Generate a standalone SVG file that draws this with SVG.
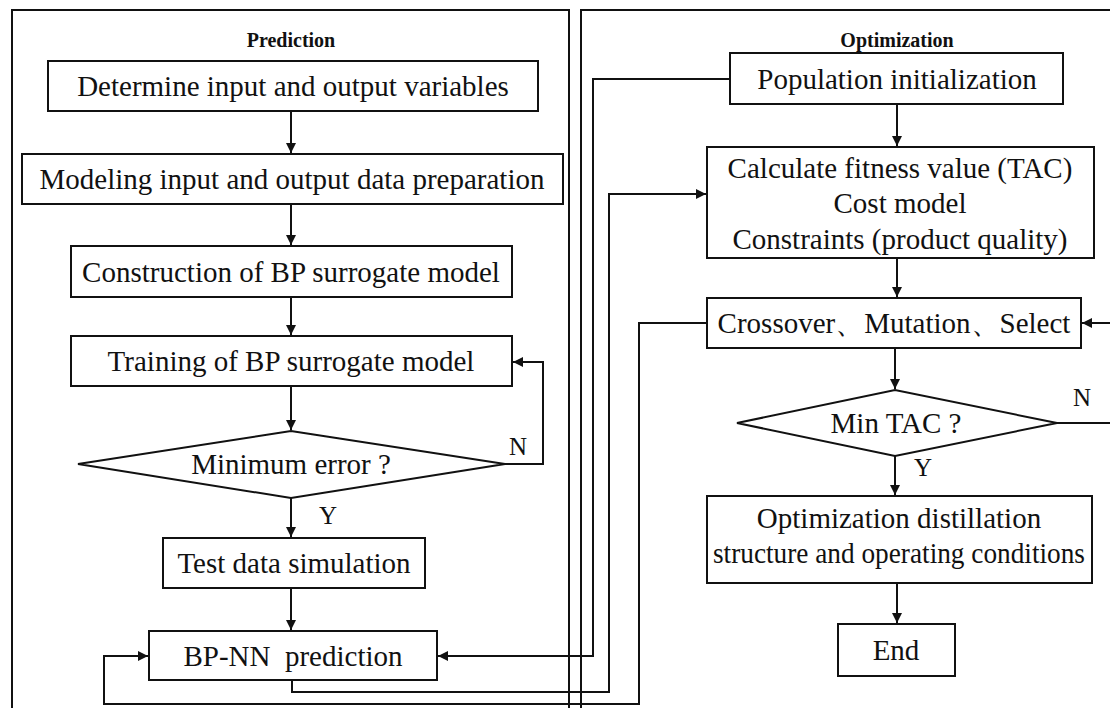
<svg xmlns="http://www.w3.org/2000/svg" width="1110" height="708" viewBox="0 0 1110 708">
<defs>
<style>
.frame{fill:none;stroke:#111;stroke-width:2}
.box{fill:#fff;stroke:#111;stroke-width:2}
.ln{fill:none;stroke:#111;stroke-width:2}
.t{font-family:"Liberation Serif","Times New Roman",serif;font-size:29px;fill:#111;text-anchor:middle}
.h{font-family:"Liberation Serif","Times New Roman",serif;font-size:20px;font-weight:bold;fill:#111;text-anchor:middle}
.lb{font-family:"Liberation Serif","Times New Roman",serif;font-size:25px;fill:#111;text-anchor:middle}
</style>
<marker id="ah" viewBox="0 0 10 10" refX="10" refY="5" markerWidth="12" markerHeight="10" markerUnits="userSpaceOnUse" orient="auto">
<path d="M0,0 L10,5 L0,10 z" fill="#111"/>
</marker>
</defs>
<rect width="1110" height="708" fill="#fff"/>
<g id="panels">
<path class="frame" d="M12,720 V10 H569 V720"/>
<path class="frame" d="M581,720 V10 H1120"/>
<text class="h" x="291" y="47">Prediction</text>
<text class="h" x="897" y="47">Optimization</text>
</g>
<g id="connectors">
<line class="ln" x1="291" y1="111" x2="291" y2="153" marker-end="url(#ah)"/>
<line class="ln" x1="291" y1="204" x2="291" y2="245" marker-end="url(#ah)"/>
<line class="ln" x1="291" y1="297" x2="291" y2="335" marker-end="url(#ah)"/>
<line class="ln" x1="291" y1="386" x2="291" y2="430" marker-end="url(#ah)"/>
<line class="ln" x1="291" y1="498" x2="291" y2="537" marker-end="url(#ah)"/>
<line class="ln" x1="291" y1="588" x2="291" y2="630" marker-end="url(#ah)"/>
<path class="ln" d="M505,464 H543 V362 H513" marker-end="url(#ah)"/>
<line class="ln" x1="897" y1="104" x2="897" y2="146" marker-end="url(#ah)"/>
<line class="ln" x1="897" y1="258" x2="897" y2="297" marker-end="url(#ah)"/>
<line class="ln" x1="895" y1="348" x2="895" y2="389" marker-end="url(#ah)"/>
<line class="ln" x1="895" y1="456" x2="895" y2="495" marker-end="url(#ah)"/>
<line class="ln" x1="897" y1="583" x2="897" y2="623" marker-end="url(#ah)"/>
<path class="ln" d="M1057,423 H1120"/>
<path class="ln" d="M1120,323 H1082" marker-end="url(#ah)"/>
<path class="ln" d="M730,79 H593 V656 H438" marker-end="url(#ah)"/>
<path class="ln" d="M292,680 V692 H609 V194 H706" marker-end="url(#ah)"/>
<path class="ln" d="M707,323 H639 V704 H104 V656 H148" marker-end="url(#ah)"/>
<text class="lb" x="518" y="455">N</text>
<text class="lb" x="328" y="524">Y</text>
<text class="lb" x="1082" y="406">N</text>
<text class="lb" x="923" y="476">Y</text>
</g>
<g id="n1"><rect class="box" x="48" y="61" width="490" height="50"/><text class="t" x="293" y="96">Determine input and output variables</text></g>
<g id="n2"><rect class="box" x="22" y="154" width="541" height="50"/><text class="t" x="292" y="189">Modeling input and output data preparation</text></g>
<g id="n3"><rect class="box" x="71" y="246" width="441" height="51"/><text class="t" x="291" y="282">Construction of BP surrogate model</text></g>
<g id="n4"><rect class="box" x="71" y="336" width="441" height="50"/><text class="t" x="291" y="371">Training of BP surrogate model</text></g>
<g id="n5"><polygon class="box" points="78,464 291,431 505,464 291,498"/><text class="t" x="291" y="474">Minimum error ?</text></g>
<g id="n6"><rect class="box" x="163" y="538" width="262" height="50"/><text class="t" x="294" y="573">Test data simulation</text></g>
<g id="n7"><rect class="box" x="149" y="631" width="288" height="49"/><text class="t" x="293" y="666" xml:space="preserve">BP-NN  prediction</text></g>
<g id="o1"><rect class="box" x="730" y="53" width="333" height="51"/><text class="t" x="897" y="89">Population initialization</text></g>
<g id="o2"><rect class="box" x="707" y="147" width="387" height="111"/><text class="t" x="900" y="178">Calculate fitness value (TAC)</text><text class="t" x="900" y="213">Cost model</text><text class="t" x="900" y="249">Constraints (product quality)</text></g>
<g id="o3"><rect class="box" x="707" y="298" width="374" height="50"/><text class="t" x="894" y="333">Crossover、Mutation、Select</text></g>
<g id="o4"><polygon class="box" points="737,423 895,390 1057,423 895,456"/><text class="t" x="896" y="433">Min TAC ?</text></g>
<g id="o5"><rect class="box" x="707" y="496" width="385" height="87"/><text class="t" x="899" y="528">Optimization distillation</text><text class="t" x="899" y="563" textLength="372" lengthAdjust="spacingAndGlyphs">structure and operating conditions</text></g>
<g id="o6"><rect class="box" x="838" y="624" width="117" height="52"/><text class="t" x="896" y="660">End</text></g>
</svg>
